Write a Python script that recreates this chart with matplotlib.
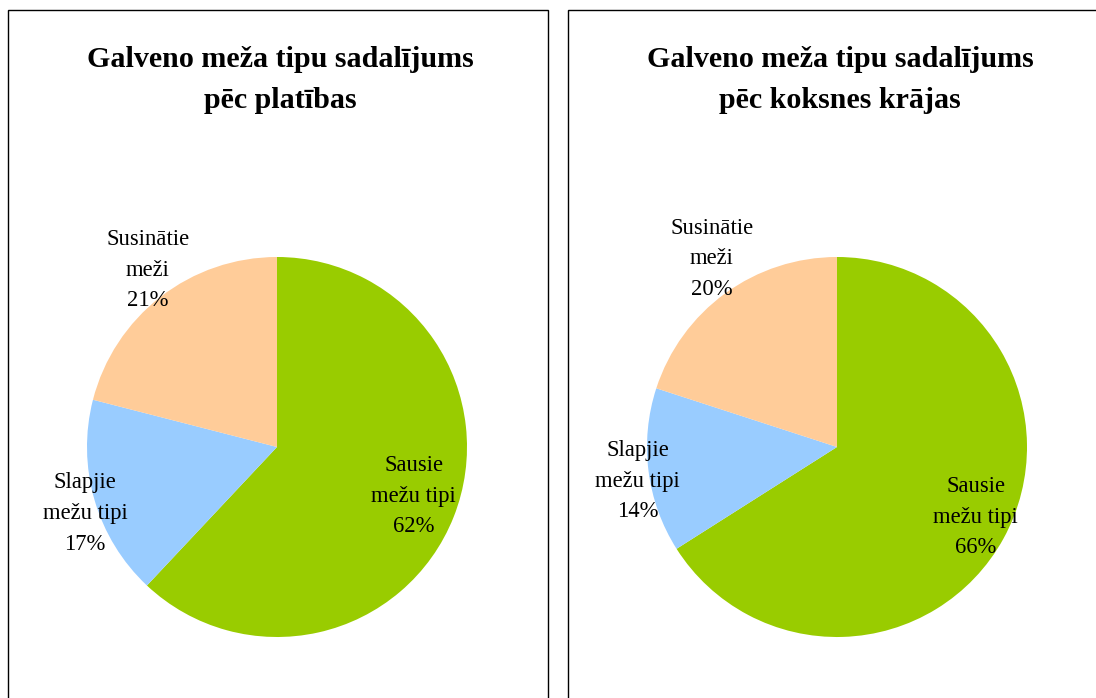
import matplotlib
matplotlib.use("Agg")
import matplotlib.pyplot as plt
from matplotlib.patches import Rectangle

plt.rcParams['font.family'] = ['Liberation Serif', 'DejaVu Serif']

categories = ["Sausie\nmežu tipi", "Slapjie\nmežu tipi", "Susinātie\nmeži"]
area_values = [62, 17, 21]
volume_values = [66, 14, 20]
titles = ["Galveno meža tipu sadalījums\npēc platības",
          "Galveno meža tipu sadalījums\npēc koksnes krājas"]
colors = ["#99CC00", "#99CCFF", "#FFCC99"]

W, H = 1096, 698
fig = plt.figure(figsize=(W / 100, H / 100), dpi=100)

def fx(px):
    return px / W

def fy(py):
    return 1 - py / H

# panel frames
for x0, x1 in [(8, 548), (568, 1110)]:
    fig.add_artist(Rectangle((fx(x0), fy(720)), fx(x1 - x0), (720 - 10) / H,
                             transform=fig.transFigure, fill=False,
                             edgecolor="black", linewidth=1.0, clip_on=True))

panels = [
    dict(cx=277, cy=447, vals=area_values, title=titles[0], tx=280,
         lab=[(0.72, -0.26), (-1.01, -0.35), (-0.68, 0.93)]),
    dict(cx=837, cy=447, vals=volume_values, title=titles[1], tx=840,
         lab=[(0.73, -0.37), (-1.05, -0.18), (-0.66, 0.99)]),
]
R = 190
for p in panels:
    ax = fig.add_axes([fx(p["cx"] - R), fy(p["cy"] + R), 2 * R / W, 2 * R / H])
    ax.pie(p["vals"], colors=colors, startangle=90, counterclock=False,
           radius=1, wedgeprops=dict(linewidth=0))
    ax.set_xlim(-1, 1)
    ax.set_ylim(-1, 1)
    ax.set_aspect("auto")
    ax.axis("off")
    for (lx, ly), cat, v in zip(p["lab"], categories, p["vals"]):
        ax.text(lx, ly, f"{cat}\n{v}%", ha="center", va="center",
                fontsize=16.3, linespacing=1.6, color="black")
    fig.text(fx(p["tx"]), fy(80), p["title"], ha="center", va="center",
             fontsize=21.6, fontweight="bold", linespacing=1.65)

fig.savefig("out.png", dpi=100, facecolor="white")
